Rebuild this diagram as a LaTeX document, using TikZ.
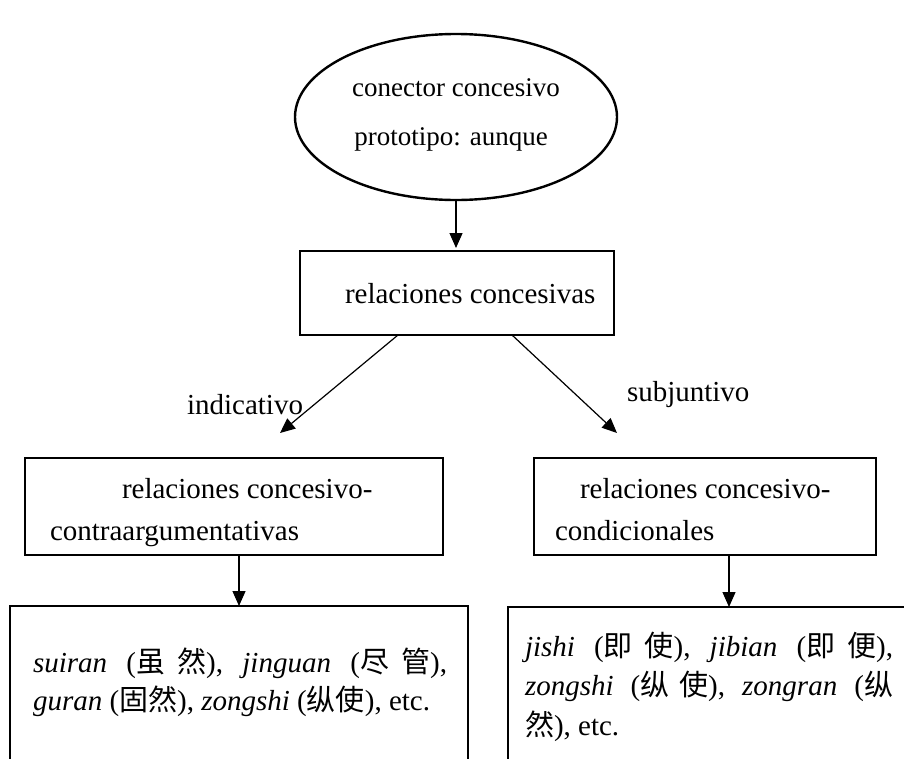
\documentclass[tikz,border=0pt]{standalone}
\usepackage{fontspec}
\setmainfont{Liberation Serif}
\newfontfamily\cjk{Noto Sans CJK SC}
\usetikzlibrary{arrows.meta,shapes.geometric}

% Chinese characters and the stretchable gaps used in justified lines
\newcommand{\zh}[1]{{\cjk #1}}
\newcommand{\g}{\hskip 0pt plus 1fil}
\newcommand{\sg}{\hskip .25em plus 1fil}

\begin{document}
\begin{tikzpicture}[x=1pt,y=-1pt,
  every node/.style={font=\fontsize{29pt}{37pt}\selectfont, inner sep=0pt, outer sep=0pt},
  frame/.style={draw, line width=2.4pt, rectangle, anchor=north west},
  bubble/.style={draw, line width=2.4pt, ellipse},
  link/.style={line width=1.2pt, -{Triangle[length=15pt,width=13pt]}},
  txt/.style={anchor=base west},
  ctxt/.style={anchor=base, font=\fontsize{27pt}{32pt}\selectfont}]
\useasboundingbox (0,0) rectangle (904,758);

% top ellipse
\node[bubble, minimum width=322pt, minimum height=166pt] (conn) at (456,117) {};
\node[ctxt] (conn1) at (456,96) {conector concesivo};
\node[ctxt] (conn2) at (451,145) {prototipo: aunque};

% relaciones concesivas
\node[frame, minimum width=314pt, minimum height=84pt] (rel) at (300,251) {};
\node[txt] (relt) at (345,303) {relaciones concesivas};
\coordinate (relin) at (456,248);
\draw[link] (relin |- conn.south) -- (relin);

% branches
\coordinate (indend) at (280,433);
\coordinate (subend) at (617,433);
\draw[link] ([xshift=98pt]rel.south west) -- (indend);
\draw[link] ([xshift=-102pt]rel.south east) -- (subend);
\node[txt] (ind) at (187,414) {indicativo};
\node[txt] (sub) at (627,401) {subjuntivo};

% second level boxes
\node[frame, minimum width=418pt, minimum height=97pt] (contra) at (25,458) {};
\node[txt] (contrat1) at (122,498) {relaciones concesivo-};
\node[txt] (contrat2) at (50,540) {contraargumentativas};

\node[frame, minimum width=342pt, minimum height=97pt] (cond) at (534,458) {};
\node[txt] (condt1) at (580,498) {relaciones concesivo-};
\node[txt] (condt2) at (555,540) {condicionales};

% example boxes, running past the lower and right edges
\node[frame, minimum width=458pt, minimum height=220pt] (ex1) at (10,606) {};
\node[frame, minimum width=450pt, minimum height=220pt] (ex2) at (508,607) {};

\draw[link] (contra.south -| ex1.north) -- (ex1.north);
\coordinate (ex2in) at (729,607);
\draw[link] (ex2in |- cond.south) -- (ex2in);

\node[txt] (ex1a) at (33,672) {\makebox[414pt][s]{\textit{suiran}\sg(\zh{虽}\g\zh{然}),\sg\textit{jinguan}\sg(\zh{尽}\g\zh{管}),}};
\node[txt] (ex1b) at (33,710) {\textit{guran} (\zh{固然}), \textit{zongshi} (\zh{纵使}), etc.};

\node[txt] (ex2a) at (525,656) {\makebox[368pt][s]{\textit{jishi}\sg(\zh{即}\g\zh{使}),\sg\textit{jibian}\sg(\zh{即}\g\zh{便}),}};
\node[txt] (ex2b) at (525,695) {\makebox[368pt][s]{\textit{zongshi}\sg(\zh{纵}\g\zh{使}),\sg\textit{zongran}\sg(\zh{纵}}};
\node[txt] (ex2c) at (525,735) {\zh{然}), etc.};
\end{tikzpicture}
\end{document}
